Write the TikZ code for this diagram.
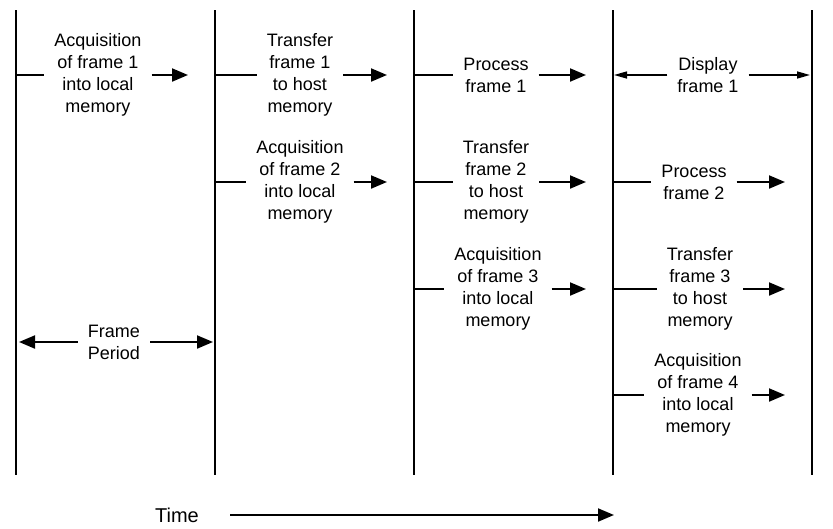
\documentclass[tikz,border=0pt]{standalone}
\usepackage{fontspec}
\setmainfont{Liberation Sans}
\usetikzlibrary{arrows.meta}
\tikzset{
  lane/.style={line width=1.5pt},
  task/.style={align=center,inner xsep=10pt,inner ysep=0pt,font=\fontsize{18}{22}\selectfont},
  lead/.style={line width=2pt},
  flow/.style={line width=2pt,-{Triangle[length=16pt,width=13pt]}},
  span/.style={line width=1.5pt,-{Triangle[length=13pt,width=7pt]}}
}
\begin{document}
\begin{tikzpicture}[x=1pt,y=-1pt]
        \useasboundingbox (0,0) rectangle (833,528);
        %% Frame boundaries
        \foreach \i/\x in {0/16,1/215,2/414,3/613,4/812} {
          \coordinate (c\i) at (\x,10);
          \coordinate (c\i e) at (\x,475);
          \draw[lane] (c\i) -- (c\i e);
        }
        %% Frame 1
        \node[task] (acq1) at (98,75) {Acquisition\\of frame 1\\into local\\memory};
        \draw[lead] (c0 |- acq1.west) -- (acq1.west);
        \draw[flow] (acq1.east) -- ([xshift=-27pt]c1 |- acq1.east);
        \node[task] (xfer1) at (300,75) {Transfer\\frame 1\\to host\\memory};
        \draw[lead] (c1 |- xfer1.west) -- (xfer1.west);
        \draw[flow] (xfer1.east) -- ([xshift=-27pt]c2 |- xfer1.east);
        \node[task] (proc1) at (496,75) {Process\\frame 1};
        \draw[lead] (c2 |- proc1.west) -- (proc1.west);
        \draw[flow] (proc1.east) -- ([xshift=-27pt]c3 |- proc1.east);
        \node[task] (disp1) at (708,75) {Display\\frame 1};
        \draw[span] (disp1.west) -- ([xshift=1pt]c3 |- disp1.west);
        \draw[span] (disp1.east) -- ([xshift=-2pt]c4 |- disp1.east);
        %% Frame 2
        \node[task] (acq2) at (300,182) {Acquisition\\of frame 2\\into local\\memory};
        \draw[lead] (c1 |- acq2.west) -- (acq2.west);
        \draw[flow] (acq2.east) -- ([xshift=-27pt]c2 |- acq2.east);
        \node[task] (xfer2) at (496,182) {Transfer\\frame 2\\to host\\memory};
        \draw[lead] (c2 |- xfer2.west) -- (xfer2.west);
        \draw[flow] (xfer2.east) -- ([xshift=-27pt]c3 |- xfer2.east);
        \node[task] (proc2) at (694,182) {Process\\frame 2};
        \draw[lead] (c3 |- proc2.west) -- (proc2.west);
        \draw[flow] (proc2.east) -- ([xshift=-27pt]c4 |- proc2.east);
        %% Frame 3
        \node[task] (acq3) at (498,289) {Acquisition\\of frame 3\\into local\\memory};
        \draw[lead] (c2 |- acq3.west) -- (acq3.west);
        \draw[flow] (acq3.east) -- ([xshift=-27pt]c3 |- acq3.east);
        \node[task] (xfer3) at (700,289) {Transfer\\frame 3\\to host\\memory};
        \draw[lead] (c3 |- xfer3.west) -- (xfer3.west);
        \draw[flow] (xfer3.east) -- ([xshift=-27pt]c4 |- xfer3.east);
        %% Frame 4
        \node[task] (acq4) at (698,395) {Acquisition\\of frame 4\\into local\\memory};
        \draw[lead] (c3 |- acq4.west) -- (acq4.west);
        \draw[flow] (acq4.east) -- ([xshift=-27pt]c4 |- acq4.east);
        %% Frame period
        \node[task] (period) at (114,342) {Frame\\Period};
        \draw[flow] (period.west) -- ([xshift=3pt]c0 |- period.west);
        \draw[flow] (period.east) -- ([xshift=-2pt]c1 |- period.east);
        %% Time axis
        \node[font=\fontsize{20}{24}\selectfont] (time) at (177,515) {Time};
        \draw[flow] ([xshift=28pt]time.east) -- ([xshift=1pt]c3 |- time.east);
\end{tikzpicture}
\end{document}
